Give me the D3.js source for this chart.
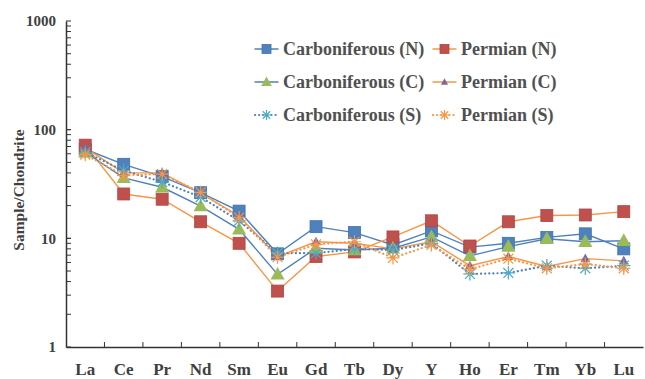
<!DOCTYPE html>
<html>
<head>
<meta charset="utf-8">
<script src="https://cdn.jsdelivr.net/npm/d3@7"></script>
<style>
  body { margin: 0; background: #fff; }
  text { font-family: "Liberation Serif", "Times New Roman", serif; font-weight: bold; }
</style>
</head>
<body>
<svg id="chart" width="645" height="379"></svg>
<script>
var elements = ['La','Ce','Pr','Nd','Sm','Eu','Gd','Tb','Dy','Y','Ho','Er','Tm','Yb','Lu'];
var yTicks = [1, 10, 100, 1000];

var carbN = [66, 48, 37, 26.3, 17.8, 7.2, 12.8, 11.3, 8.7, 11.7, 8.3, 9.0, 10.2, 11.0, 8.0];
var permN = [72, 25.6, 22.9, 14.2, 9.0, 3.27, 6.8, 7.5, 10.3, 14.5, 8.5, 14.2, 16.2, 16.4, 17.6];
var carbC = [62, 36, 29.5, 19.8, 12.1, 4.66, 8.1, 7.8, 8.1, 10.3, 6.9, 8.4, 9.9, 9.3, 9.5];
var permC = [68, 40, 40, 26, 16, 6.8, 9.3, 9.0, 8.0, 9.3, 5.6, 6.8, 5.5, 6.5, 6.2];
var carbS = [62, 42, 33, 24, 14.5, 7.3, 7.3, 8.0, 7.8, 9.0, 4.7, 4.8, 5.6, 5.3, 5.6];
var permS = [59, 38, 39, 26.5, 15.5, 6.7, 8.8, 9.3, 6.6, 8.7, 5.2, 6.5, 5.3, 5.8, 5.3];

var blue = '#4f81bd', orange = '#f79646';
var series = [
  {name: 'Carboniferous (N)', values: carbN, line: blue, dash: null, marker: 'square', color: '#4f81bd'},
  {name: 'Permian (N)', values: permN, line: orange, dash: null, marker: 'square', color: '#c0504d'},
  {name: 'Carboniferous (C)', values: carbC, line: blue, dash: null, marker: 'triangle', color: '#9bbb59'},
  {name: 'Permian (C)', values: permC, line: orange, dash: null, marker: 'smalltri', color: '#8064a2'},
  {name: 'Carboniferous (S)', values: carbS, line: blue, dash: '0.1,4', marker: 'star', color: '#4bacc6'},
  {name: 'Permian (S)', values: permS, line: orange, dash: '0.1,4', marker: 'star', color: '#f79646'}
];

var svg = d3.select('#chart');
var plotLeft = 66, plotRight = 643, plotTop = 21, plotBottom = 347;

var x = d3.scaleBand().domain(elements).range([plotLeft, plotRight]);
var y = d3.scaleLog().domain([1, 1000]).range([plotBottom, plotTop]);
var cx = function(c) { return x(c) + x.bandwidth() / 2; };

// y axis
var yAxis = d3.axisLeft(y).tickValues(yTicks).tickFormat(d3.format('d')).tickSize(0).tickPadding(10);
var gy = svg.append('g').attr('transform', 'translate(' + plotLeft + ',0)').call(yAxis);
gy.select('.domain').attr('stroke', '#333').attr('stroke-width', 1.5);
gy.selectAll('text').attr('font-size', 15).attr('fill', '#404040');

var minor = [];
[1, 10, 100].forEach(function(d) {
  for (var k = 1; k <= 10; k++) minor.push(d * k);
});
svg.append('g').selectAll('line').data(minor).enter().append('line')
  .attr('x1', plotLeft).attr('x2', plotLeft + 5)
  .attr('y1', function(d) { return y(d); }).attr('y2', function(d) { return y(d); })
  .attr('stroke', '#333').attr('stroke-width', 1);

// x axis
var xAxis = d3.axisBottom(x).tickSize(0).tickPadding(16);
var gx = svg.append('g').attr('transform', 'translate(0,' + plotBottom + ')').call(xAxis);
gx.select('.domain').attr('stroke', '#333').attr('stroke-width', 1.5);
gx.selectAll('text').attr('font-size', 17).attr('fill', '#404040');

svg.append('g').selectAll('line').data(elements.slice(1)).enter().append('line')
  .attr('x1', function(d) { return x(d); }).attr('x2', function(d) { return x(d); })
  .attr('y1', plotBottom).attr('y2', plotBottom - 5)
  .attr('stroke', '#333').attr('stroke-width', 1);

svg.append('text')
  .attr('transform', 'translate(24,190) rotate(-90)')
  .attr('text-anchor', 'middle')
  .attr('font-size', 15.5).attr('fill', '#404040')
  .text('Sample/Chondrite');

function drawMarker(g, s, size) {
  if (s.marker === 'square') {
    g.append('rect').attr('x', -size / 2).attr('y', -size / 2).attr('width', size).attr('height', size)
      .attr('fill', s.color).attr('stroke', s.color === '#c0504d' ? '#b04643' : '#3f72ad').attr('stroke-width', 0.8);
  } else if (s.marker === 'triangle' || s.marker === 'smalltri') {
    var r = s.marker === 'triangle' ? size * 0.62 : size * 0.42;
    g.append('path').attr('d', 'M0,' + (-r) + 'L' + (r * 0.95) + ',' + (r * 0.7) + 'L' + (-r * 0.95) + ',' + (r * 0.7) + 'Z')
      .attr('fill', s.color);
  } else {
    var h = size * 0.55;
    g.append('path')
      .attr('d', 'M' + (-h) + ',0L' + h + ',0M0,' + (-h) + 'L0,' + h +
        'M' + (-h * 0.75) + ',' + (-h * 0.75) + 'L' + (h * 0.75) + ',' + (h * 0.75) +
        'M' + (-h * 0.75) + ',' + (h * 0.75) + 'L' + (h * 0.75) + ',' + (-h * 0.75))
      .attr('fill', 'none').attr('stroke', s.color).attr('stroke-width', 1.2);
  }
}

var line = d3.line().x(function(d, i) { return cx(elements[i]); }).y(function(d) { return y(d); });

series.forEach(function(s) {
  svg.append('path').datum(s.values)
    .attr('d', line)
    .attr('fill', 'none')
    .attr('stroke', s.line)
    .attr('stroke-width', s.dash ? 2.2 : 1.4)
    .attr('stroke-linecap', 'round')
    .attr('stroke-dasharray', s.dash);
});

series.forEach(function(s) {
  s.values.forEach(function(v, i) {
    var g = svg.append('g').attr('transform', 'translate(' + cx(elements[i]) + ',' + y(v) + ')');
    drawMarker(g, s, 12);
  });
});

// legend
var legX = [255, 433], legY = [49, 82, 115];
series.forEach(function(s, i) {
  var col = i % 2, row = Math.floor(i / 2);
  var lg = svg.append('g').attr('transform', 'translate(' + legX[col] + ',' + legY[row] + ')');
  lg.append('line').attr('x1', 0).attr('x2', 23).attr('y1', 0).attr('y2', 0)
    .attr('stroke', s.line).attr('stroke-width', s.dash ? 2.2 : 1.4)
    .attr('stroke-linecap', 'round').attr('stroke-dasharray', s.dash);
  var m = lg.append('g').attr('transform', 'translate(11.5,0)');
  drawMarker(m, s, 9);
  lg.append('text').attr('x', 28).attr('y', 6)
    .attr('font-size', 18).attr('fill', '#505050')
    .text(s.name);
});
</script>
</body>
</html>
